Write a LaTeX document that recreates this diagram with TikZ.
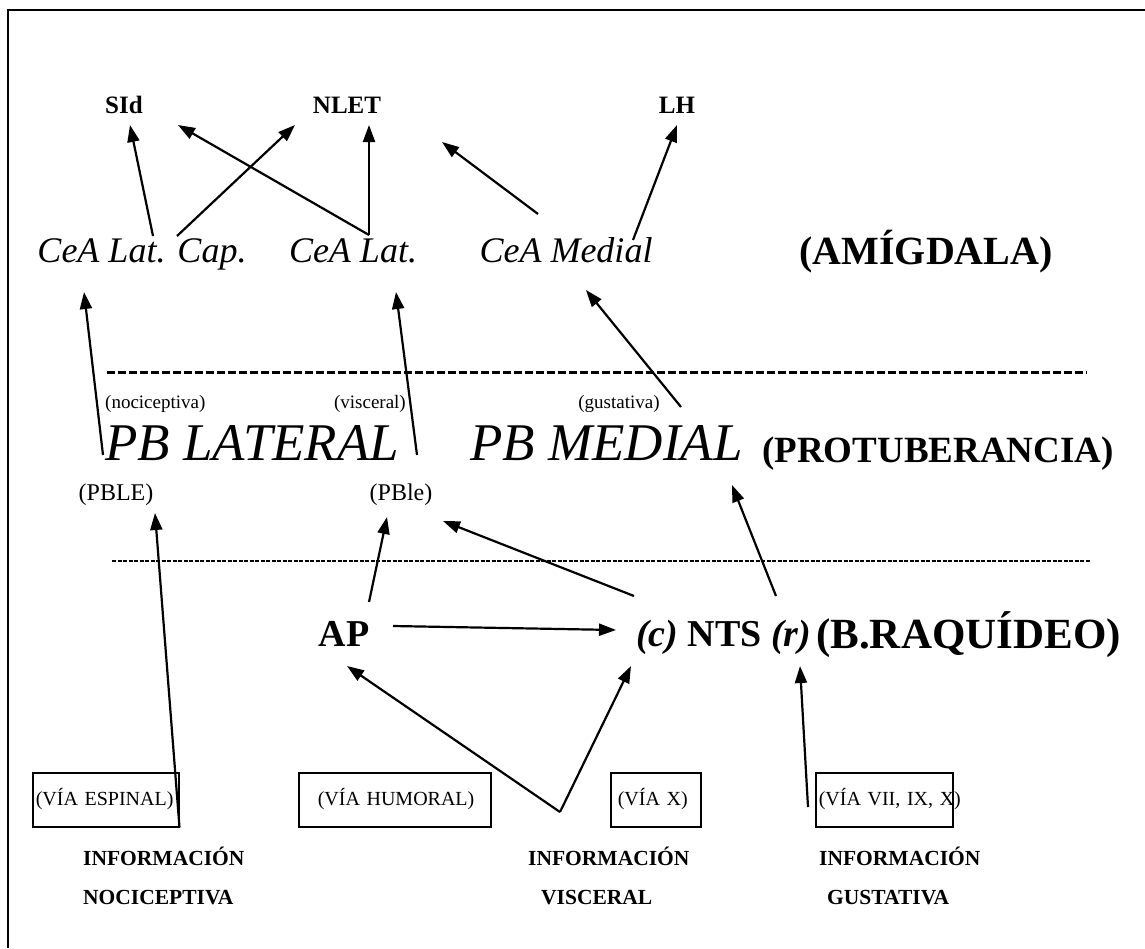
\documentclass[tikz,border=0pt]{standalone}
\usepackage{fontspec}
\setmainfont{Liberation Serif}
\usetikzlibrary{arrows.meta}

\begin{document}
\begin{tikzpicture}[>={Triangle[length=17pt,width=12pt]}, x=1pt, y=-1pt,
  every node/.style={inner sep=0pt},
  flecha/.style={->, line width=2.2pt},
  nucleo/.style={font=\fontsize{25}{30}\selectfont\bfseries},
  cea/.style={font=\fontsize{36}{40}\selectfont\itshape},
  region/.style={font=\fontsize{#1}{#1}\selectfont\bfseries},
  nota/.style={font=\fontsize{19}{22}\selectfont},
  pb/.style={font=\fontsize{53}{57}\selectfont\itshape},
  sub/.style={font=\fontsize{24}{28}\selectfont},
  via/.style={draw, line width=1.5pt, anchor=north west, inner xsep=3pt, inner ysep=0pt,
    text height=33pt, text depth=21pt, align=left, font=\fontsize{20}{22}\selectfont},
  info/.style={anchor=north west, align=left, font=\fontsize{21.5}{39}\selectfont\bfseries}]
  \useasboundingbox (0,0) rectangle (1145,948);

  % Marco
  \draw[line width=2.5pt] (8,948) -- (8,10) -- (1145,10);

  % Amigdala
  \node[nucleo, anchor=base] (sid) at (124,113) {SId};
  \node[nucleo, anchor=base] (nlet) at (347,113) {NLET};
  \node[nucleo, anchor=base] (lh) at (677,113) {LH};
  \node[cea, anchor=base] (cealc) at (142,262) {CeA Lat. Cap.};
  \node[cea, anchor=base] (ceal) at (353,262) {CeA Lat.};
  \node[cea, anchor=base] (ceam) at (566,262) {CeA Medial};
  \node[region=40, anchor=base] (amig) at (926,264) {(AMÍGDALA)};
  \coordinate (haciaNLET) at (442,142);

  % Lineas de separacion
  \draw[line width=3pt, dash pattern=on 8pt off 3pt] (107,372) -- (1087,372);
  \draw[line width=2.5pt, dash pattern=on 4pt off 1.5pt] (112,561) -- (1090,561);

  % Protuberancia
  \node[nota, anchor=base west] (noci) at (105,408) {(nociceptiva)};
  \node[nota, anchor=base east] (visc) at (406,408) {(visceral)};
  \node[nota, anchor=base] (gust) at (619,408) {(gustativa)};
  \node[pb, anchor=base west] (pbl) at (105,460) {PB LATERAL};
  \node[pb, anchor=base west] (pbm) at (470,460) {PB MEDIAL};
  \node[region=37, anchor=base west] (prot) at (762,462) {(PROTUBERANCIA)};
  \node[sub, anchor=base] (pble) at (116,500) {(PBLE)};
  \node[sub, anchor=base] (pbles) at (401,500) {(PBle)};

  % Bulbo raquideo
  \node[region=38, anchor=base] (ap) at (344,646) {AP};
  \node[region=38, anchor=base west] (nts) at (636,646) {\textit{(c)} NTS \textit{(r)}};
  \node[region=43, anchor=base west] (raq) at (816,648) {(B.RAQUÍDEO)};

  % Vias
  \node[via, text width=140pt] (espinal) at (32,772) {(VÍA~ESPINAL)};
  \node[via, text width=186pt] (humoral) at (298,772) {\hspace*{16pt}(VÍA~HUMORAL)};
  \node[via, text width=84pt] (viax) at (610,772) {\hspace*{4pt}(VÍA~X)};
  \node[via, text width=131pt] (viavii) at (815,772) {(VÍA~VII,~IX,~X)};
  \coordinate (vertice) at (560,812);
  \coordinate (origenGust) at (808,807);

  % Informacion
  \node[info] (infonoc) at (83,847) {INFORMACIÓN\\NOCICEPTIVA};
  \node[info] (infovis) at (528,847) {INFORMACIÓN\\\hspace*{13pt}VISCERAL};
  \node[info] (infogus) at (819,847) {INFORMACIÓN\\\hspace*{8pt}GUSTATIVA};

  % Flechas
  \draw[flecha] ([xshift=11pt,yshift=26pt]cealc.base) -- ([xshift=6pt,yshift=-12pt]sid.base);
  \draw[flecha] ([xshift=35pt,yshift=26pt]cealc.base) -- ([xshift=-52pt,yshift=-12pt]nlet.base);
  \draw[flecha] ([xshift=16pt,yshift=27pt]ceal.base) -- ([xshift=54pt,yshift=-12pt]sid.base);
  \draw[flecha] ([xshift=16pt,yshift=27pt]ceal.base) -- ([xshift=22pt,yshift=-12pt]nlet.base);
  \draw[flecha] ([xshift=-28pt,yshift=48pt]ceam.base) -- (haciaNLET);
  \draw[flecha] ([xshift=67pt,yshift=22pt]ceam.base) -- ([yshift=-12pt]lh.base);
  \draw[flecha] ([xshift=-2pt,yshift=5pt]pbl.base west) -- ([xshift=-58pt,yshift=-30pt]cealc.base);
  \draw[flecha] ([xshift=312pt,yshift=5pt]pbl.base west) -- ([xshift=43pt,yshift=-30pt]ceal.base);
  \draw[flecha] ([xshift=211pt,yshift=53pt]pbm.base west) -- ([xshift=20pt,yshift=-28pt]ceam.base);
  \draw[flecha] (espinal.south east) -- ([xshift=39pt,yshift=-13pt]pble.base);
  \draw[flecha] ([xshift=25pt,yshift=44pt]ap.base) -- ([xshift=-14pt,yshift=-17pt]pbles.base);
  \draw[flecha] ([xshift=-2pt,yshift=50pt]nts.base west) -- ([xshift=42pt,yshift=-21pt]pbles.base);
  \draw[flecha] ([xshift=140pt,yshift=50pt]nts.base west) -- ([xshift=262pt,yshift=-25pt]pbm.base west);
  \draw[flecha] ([xshift=49pt,yshift=20pt]ap.base) -- ([xshift=-20pt,yshift=16pt]nts.base west);
  \draw[flecha] (vertice) -- ([xshift=3pt,yshift=-20pt]ap.base);
  \draw[flecha] (vertice) -- ([xshift=-5pt,yshift=-20pt]nts.base west);
  \draw[flecha] (origenGust) -- ([xshift=164pt,yshift=-20pt]nts.base west);
\end{tikzpicture}
\end{document}
